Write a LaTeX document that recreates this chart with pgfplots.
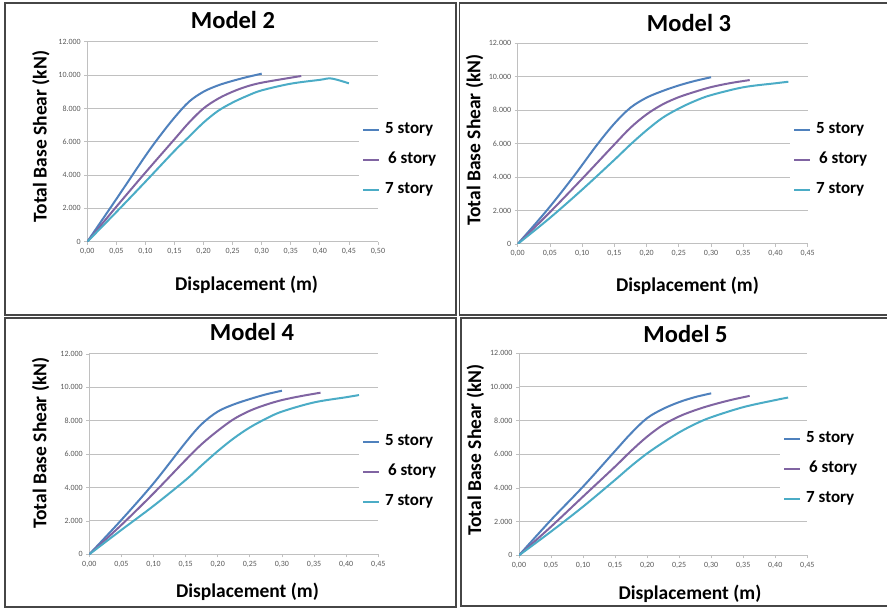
\documentclass[border=0pt]{standalone}
\usepackage{pgfplots}
\pgfplotsset{compat=1.18}
\usepackage{fontspec}
\setmainfont{Carlito}
\definecolor{cfive}{RGB}{79,129,189}
\definecolor{csix}{RGB}{128,100,162}
\definecolor{cseven}{RGB}{75,172,198}
\definecolor{gridgray}{RGB}{192,192,192}
\definecolor{framegray}{RGB}{70,70,70}
\pgfplotsset{
  panel/.style={
    scale only axis,
    axis x line*=bottom, axis y line*=left,
    axis line style={draw=gridgray, line width=1pt},
    ymin=0, ymax=12000, ytick={0,2000,4000,6000,8000,10000,12000},
    xmin=0,
    ymajorgrids, grid style={draw=gridgray, line width=1pt},
    scaled y ticks=false, scaled x ticks=false,
    tick align=outside, major tick length=3pt,
    tick style={draw=gridgray, line width=0.8pt},
    /pgf/number format/assume math mode=true,
    ticklabel style={font=\fontsize{8}{9}\selectfont, text=black!65},
    yticklabel style={/pgf/number format/.cd, fixed, 1000 sep={.}},
    xticklabel style={/pgf/number format/.cd, fixed, fixed zerofill, precision=2, use comma},
    title style={anchor=base, font=\fontsize{24.5}{29}\selectfont\bfseries},
    xlabel={Displacement (m)}, ylabel={Total Base Shear (kN)},
    xlabel style={anchor=base, font=\fontsize{19.5}{23}\selectfont\bfseries},
    ylabel style={anchor=base, font=\fontsize{19.5}{23}\selectfont\bfseries},
    legend cell align=left,
    legend style={draw=none, fill=white, anchor=north west,
      font=\fontsize{17}{20}\selectfont\bfseries,
      row sep=15pt, column sep=5pt, inner xsep=3pt, inner ysep=2pt,
      nodes={inner sep=0pt, text height=11pt, text depth=4pt}},
    legend image code/.code={\draw[#1, line width=2pt] (0pt,0pt) -- (16pt,0pt);},
    every axis plot/.append style={line width=2pt, smooth, tension=0.55, no marks},
  }
}
\begin{document}
\begin{tikzpicture}

% ---------------- Model 2 ----------------
\begin{axis}[panel, anchor=south west, at={(87.3pt,367.3pt)}, width=290.7pt, height=200pt,
  xmax=0.5, xtick={0,0.05,0.10,0.15,0.20,0.25,0.30,0.35,0.40,0.45,0.50},
  title={Model 2}, title style={at={(axis description cs:0.501,1.0335)}},
  xlabel style={at={(axis description cs:0.548,-0.2465)}},
  ylabel style={at={(axis description cs:-0.140,0.526)}},
  legend style={at={(0.9347,0.6065)}}]
\addplot[cfive] coordinates {(0,0) (0.05,2560) (0.10,5150) (0.125,6350) (0.15,7450) (0.175,8400) (0.20,9000) (0.225,9380) (0.25,9650) (0.275,9880) (0.30,10080)};
\addplot[csix] coordinates {(0,0) (0.05,2100) (0.10,4150) (0.15,6150) (0.175,7150) (0.20,8000) (0.225,8580) (0.25,9000) (0.275,9320) (0.30,9540) (0.35,9840) (0.368,9940)};
\addplot[cseven] coordinates {(0,0) (0.05,1780) (0.10,3600) (0.15,5450) (0.175,6300) (0.20,7150) (0.225,7850) (0.25,8350) (0.275,8750) (0.30,9080) (0.35,9480) (0.40,9710) (0.42,9790) (0.45,9500)};
\legend{5 story,\hspace{3pt}6 story,7 story}
\end{axis}

% ---------------- Model 3 ----------------
\begin{axis}[panel, anchor=south west, at={(517.7pt,365pt)}, width=290pt, height=200.7pt,
  xmax=0.45, xtick={0,0.05,0.10,0.15,0.20,0.25,0.30,0.35,0.40,0.45},
  title={Model 3}, title style={at={(axis description cs:0.5907,1.0264)}},
  xlabel style={at={(axis description cs:0.5855,-0.2377)}},
  ylabel style={at={(axis description cs:-0.1283,0.518)}},
  legend style={at={(0.939,0.6158)}}]
\addplot[cfive] coordinates {(0,0) (0.045,2000) (0.086,4000) (0.1225,5900) (0.15,7200) (0.175,8150) (0.20,8750) (0.225,9150) (0.25,9480) (0.275,9750) (0.30,9970)};
\addplot[csix] coordinates {(0,0) (0.05,1900) (0.10,3900) (0.15,5950) (0.175,6950) (0.20,7750) (0.225,8350) (0.25,8780) (0.275,9100) (0.30,9380) (0.33,9620) (0.36,9800)};
\addplot[cseven] coordinates {(0,0) (0.05,1560) (0.10,3250) (0.15,5030) (0.175,5950) (0.20,6800) (0.225,7550) (0.25,8100) (0.275,8550) (0.30,8900) (0.35,9370) (0.40,9610) (0.42,9700)};
\legend{5 story,\hspace{3pt}6 story,7 story}
\end{axis}

% ---------------- Model 4 ----------------
\begin{axis}[panel, anchor=south west, at={(89.3pt,54.7pt)}, width=289pt, height=200.3pt,
  xmax=0.45, xtick={0,0.05,0.10,0.15,0.20,0.25,0.30,0.35,0.40,0.45},
  title={Model 4}, title style={at={(axis description cs:0.563,1.035)}},
  xlabel style={at={(axis description cs:0.5474,-0.2182)}},
  ylabel style={at={(axis description cs:-0.1481,0.5557)}},
  legend style={at={(0.9332,0.6086)}}]
\addplot[cfive] coordinates {(0,0) (0.05,2060) (0.10,4250) (0.15,6700) (0.175,7800) (0.20,8550) (0.225,8980) (0.25,9300) (0.275,9580) (0.30,9800)};
\addplot[csix] coordinates {(0,0) (0.05,1760) (0.10,3650) (0.15,5650) (0.175,6600) (0.20,7400) (0.225,8100) (0.25,8600) (0.275,8960) (0.30,9240) (0.33,9480) (0.36,9680)};
\addplot[cseven] coordinates {(0,0) (0.05,1460) (0.10,2900) (0.15,4450) (0.175,5330) (0.20,6180) (0.225,6950) (0.25,7600) (0.275,8120) (0.30,8550) (0.35,9100) (0.40,9410) (0.42,9540)};
\legend{5 story,\hspace{3pt}6 story,7 story}
\end{axis}

% ---------------- Model 5 ----------------
\begin{axis}[panel, anchor=south west, at={(519pt,53.7pt)}, width=288.3pt, height=202pt,
  xmax=0.45, xtick={0,0.05,0.10,0.15,0.20,0.25,0.30,0.35,0.40,0.45},
  title={Model 5}, title style={at={(axis description cs:0.5775,1.0262)}},
  xlabel style={at={(axis description cs:0.593,-0.2193)}},
  ylabel style={at={(axis description cs:-0.1318,0.5213)}},
  legend style={at={(0.9053,0.6248)}}]
\addplot[cfive] coordinates {(0,0) (0.05,2100) (0.10,4080) (0.15,6200) (0.175,7250) (0.20,8150) (0.225,8700) (0.25,9100) (0.275,9400) (0.30,9620)};
\addplot[csix] coordinates {(0,0) (0.05,1700) (0.10,3490) (0.15,5270) (0.175,6200) (0.20,7050) (0.225,7750) (0.25,8250) (0.275,8620) (0.30,8920) (0.33,9220) (0.36,9470)};
\addplot[cseven] coordinates {(0,0) (0.05,1410) (0.10,2890) (0.15,4480) (0.175,5300) (0.20,6050) (0.225,6700) (0.25,7300) (0.275,7800) (0.30,8200) (0.35,8800) (0.40,9220) (0.42,9370)};
\legend{5 story,\hspace{3pt}6 story,7 story}
\end{axis}

% panel frames
\draw[framegray, line width=1.5pt] (5pt,606pt) rectangle (456pt,294pt);
\draw[framegray, line width=1.5pt] (459.5pt,606pt) rectangle (890pt,294pt);
\draw[framegray, line width=1.5pt] (5pt,291pt) rectangle (456pt,2pt);
\draw[framegray, line width=1.5pt] (461pt,291pt) rectangle (890pt,3pt);

\pgfresetboundingbox
\path (0pt,0pt) rectangle (887pt,609pt);
\end{tikzpicture}
\end{document}
